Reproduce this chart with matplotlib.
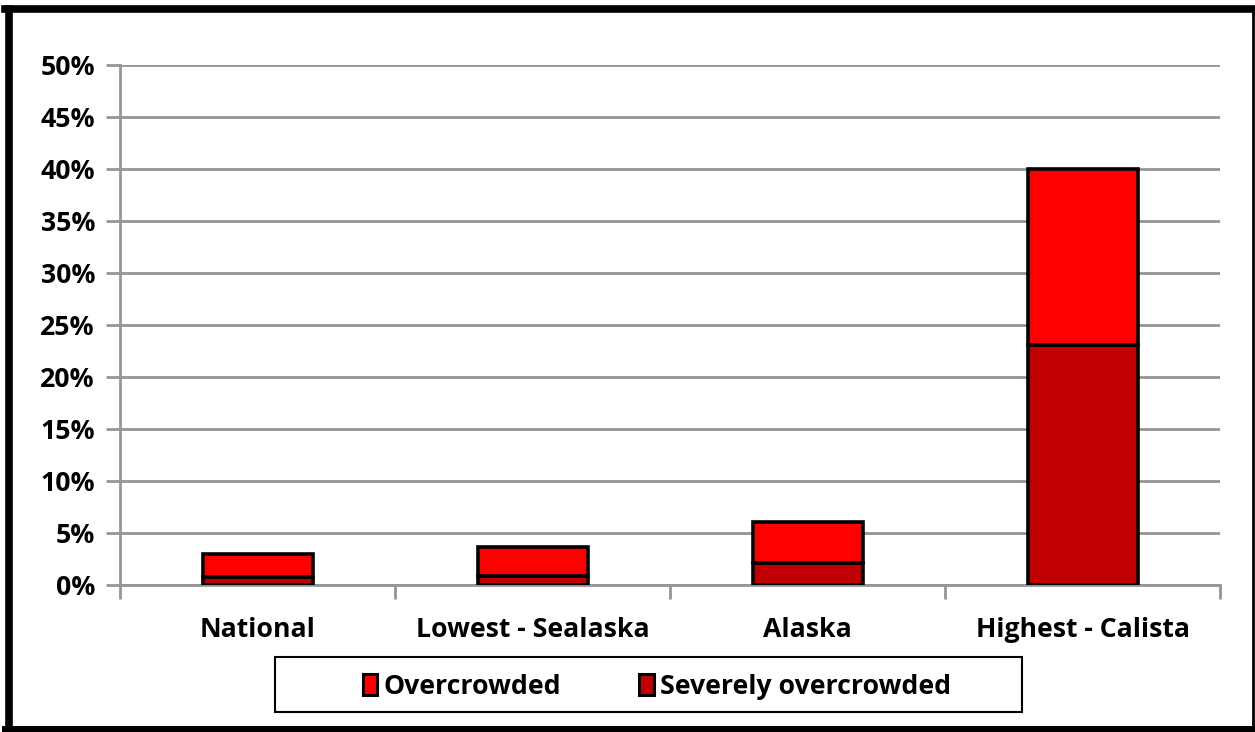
import matplotlib
matplotlib.use("Agg")
import matplotlib.pyplot as plt
from matplotlib.lines import Line2D
from matplotlib.patches import Patch, Rectangle
from matplotlib.ticker import PercentFormatter, MultipleLocator

plt.rcParams['font.family'] = ['Open Sans', 'DejaVu Sans']
plt.rcParams['font.weight'] = 'bold'

categories = ["National", "Lowest - Sealaska", "Alaska", "Highest - Calista"]
severely_overcrowded = [0.8, 0.9, 2.15, 23.1]
overcrowded = [2.2, 2.8, 3.9, 16.9]

FS = 19.2
W, H = 1255, 732
fig = plt.figure(figsize=(W / 100, H / 100), dpi=100)
ax = fig.add_axes([120 / W, 1 - 585 / H, 1100 / W, 520 / H])

x = range(len(categories))
ax.bar(x, severely_overcrowded, width=0.4, color="#C00000",
       edgecolor="black", linewidth=2.6, zorder=3, label="Severely overcrowded")
ax.bar(x, overcrowded, width=0.4, bottom=severely_overcrowded, color="#FF0000",
       edgecolor="black", linewidth=2.6, zorder=3, label="Overcrowded")

ax.set_xlim(-0.5, len(categories) - 0.5)
ax.set_ylim(0, 50)
ax.yaxis.set_major_locator(MultipleLocator(5))
ax.yaxis.set_major_formatter(PercentFormatter(decimals=0))
ax.grid(axis="y", color="#959595", linewidth=2, zorder=0)

for side in ("top", "right"):
    ax.spines[side].set_visible(False)
for side in ("left", "bottom"):
    ax.spines[side].set_color("#959595")
    ax.spines[side].set_linewidth(2)

ax.set_xticks(list(x))
ax.set_xticklabels(categories, fontsize=FS, fontweight="bold")
ax.set_xticks([i - 0.5 for i in range(len(categories) + 1)], minor=True)
ax.tick_params(axis="x", which="major", length=0, pad=23)
ax.tick_params(axis="x", which="minor", length=10, width=2, color="#959595")
ax.tick_params(axis="y", length=10, width=2, color="#959595", labelsize=FS, pad=8)
for lbl in ax.get_yticklabels():
    lbl.set_fontweight("bold")

# legend box
fig.add_artist(Rectangle((275 / W, 1 - 712 / H), (1022 - 275) / W, 55 / H,
                         transform=fig.transFigure, facecolor="white",
                         edgecolor="black", linewidth=1.5))
handles = [Patch(facecolor="#FF0000", edgecolor="black", linewidth=2.2),
           Patch(facecolor="#C00000", edgecolor="black", linewidth=2.2)]
leg = fig.legend(handles, ["Overcrowded", "Severely overcrowded"],
                 loc="center", bbox_to_anchor=(657 / W, 1 - 687 / H),
                 ncol=2, frameon=False, handlelength=0.55, handleheight=0.85,
                 handletextpad=0.25, columnspacing=2.9,
                 prop={"weight": "bold", "size": FS})

# outer frame of the figure
fig.add_artist(Line2D([8.5 / W, 8.5 / W], [0, 1 - 8.5 / H], transform=fig.transFigure, color="black", linewidth=5.5))
fig.add_artist(Line2D([5 / W, 1], [1 - 8.5 / H, 1 - 8.5 / H], transform=fig.transFigure, color="black", linewidth=5.5))
fig.add_artist(Line2D([5 / W, 1], [3 / H, 3 / H], transform=fig.transFigure, color="black", linewidth=5))
fig.add_artist(Line2D([1 - 2 / W, 1 - 2 / W], [0, 1 - 8.5 / H], transform=fig.transFigure, color="black", linewidth=2))

fig.savefig("out.png", dpi=100, facecolor="white")
